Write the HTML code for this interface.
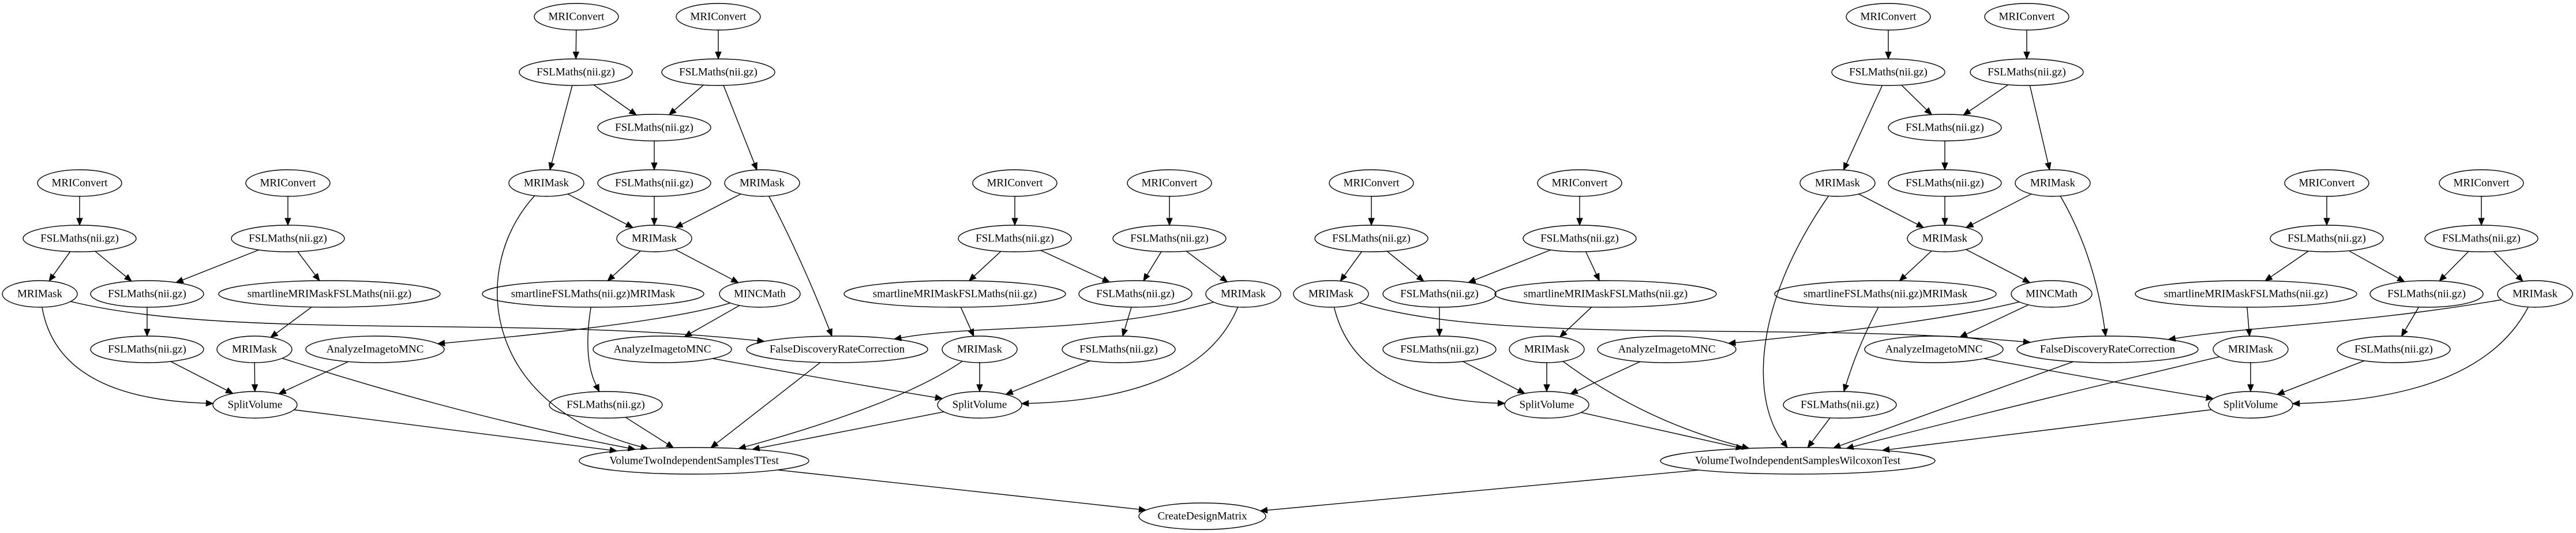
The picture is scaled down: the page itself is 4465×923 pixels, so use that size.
<!DOCTYPE html>
<html><head><meta charset="utf-8"><style>
html,body{margin:0;padding:0;background:#fff;}
svg{display:block;}
text{font-family:"Liberation Serif",serif;font-size:19px;fill:#000;text-anchor:middle;dominant-baseline:central;}
ellipse{fill:none;stroke:#000;stroke-width:1.4;}
</style></head><body>
<svg id="s" width="4465" height="923" viewBox="0 0 4465 923" xmlns="http://www.w3.org/2000/svg">
<g id="edges" stroke="#000" stroke-width="1.4" fill="none"></g>
<g id="heads" fill="#000" stroke="#000" stroke-width="1"></g>
<g id="nodes">
<ellipse id="a1" cx="138" cy="317" rx="73" ry="23"/><text x="138" y="317">MRIConvert</text>
<ellipse id="a2" cx="499" cy="317" rx="73" ry="23"/><text x="499" y="317">MRIConvert</text>
<ellipse id="a3" cx="138" cy="413" rx="98" ry="23"/><text x="138" y="413">FSLMaths(nii.gz)</text>
<ellipse id="a4" cx="499" cy="413" rx="98" ry="23"/><text x="499" y="413">FSLMaths(nii.gz)</text>
<ellipse id="a5" cx="69" cy="509" rx="65" ry="23"/><text x="69" y="509">MRIMask</text>
<ellipse id="a6" cx="255" cy="509" rx="98" ry="23"/><text x="255" y="509">FSLMaths(nii.gz)</text>
<ellipse id="a7" cx="571" cy="509" rx="192" ry="23"/><text x="571" y="509">smartlineMRIMaskFSLMaths(nii.gz)</text>
<ellipse id="a8" cx="255" cy="605" rx="98" ry="23"/><text x="255" y="605">FSLMaths(nii.gz)</text>
<ellipse id="a9" cx="441" cy="605" rx="65" ry="23"/><text x="441" y="605">MRIMask</text>
<ellipse id="a10" cx="650" cy="605" rx="120" ry="23"/><text x="650" y="605">AnalyzeImagetoMNC</text>
<ellipse id="a11" cx="442" cy="701" rx="73" ry="23"/><text x="442" y="701">SplitVolume</text>

<ellipse id="b1" cx="999" cy="29" rx="73" ry="23"/><text x="999" y="29">MRIConvert</text>
<ellipse id="b2" cx="1245" cy="29" rx="73" ry="23"/><text x="1245" y="29">MRIConvert</text>
<ellipse id="b3" cx="998" cy="125" rx="98" ry="23"/><text x="998" y="125">FSLMaths(nii.gz)</text>
<ellipse id="b4" cx="1245" cy="125" rx="98" ry="23"/><text x="1245" y="125">FSLMaths(nii.gz)</text>
<ellipse id="b5" cx="1134" cy="221" rx="98" ry="23"/><text x="1134" y="221">FSLMaths(nii.gz)</text>
<ellipse id="b6" cx="947" cy="317" rx="65" ry="23"/><text x="947" y="317">MRIMask</text>
<ellipse id="b7" cx="1134" cy="317" rx="98" ry="23"/><text x="1134" y="317">FSLMaths(nii.gz)</text>
<ellipse id="b8" cx="1321" cy="317" rx="65" ry="23"/><text x="1321" y="317">MRIMask</text>
<ellipse id="b9" cx="1134" cy="413" rx="65" ry="23"/><text x="1134" y="413">MRIMask</text>
<ellipse id="b10" cx="1028" cy="509" rx="192" ry="23"/><text x="1028" y="509">smartlineFSLMaths(nii.gz)MRIMask</text>
<ellipse id="b11" cx="1317" cy="509" rx="70" ry="23"/><text x="1317" y="509">MINCMath</text>
<ellipse id="b12" cx="1148" cy="605" rx="120" ry="23"/><text x="1148" y="605">AnalyzeImagetoMNC</text>
<ellipse id="b13" cx="1451" cy="605" rx="157" ry="23"/><text x="1451" y="605">FalseDiscoveryRateCorrection</text>
<ellipse id="b14" cx="1050" cy="701" rx="98" ry="23"/><text x="1050" y="701">FSLMaths(nii.gz)</text>
<ellipse id="T" cx="1203" cy="798" rx="199" ry="23"/><text x="1203" y="798">VolumeTwoIndependentSamplesTTest</text>

<ellipse id="c1" cx="1759" cy="317" rx="73" ry="23"/><text x="1759" y="317">MRIConvert</text>
<ellipse id="c2" cx="2027" cy="317" rx="73" ry="23"/><text x="2027" y="317">MRIConvert</text>
<ellipse id="c3" cx="1759" cy="413" rx="98" ry="23"/><text x="1759" y="413">FSLMaths(nii.gz)</text>
<ellipse id="c4" cx="2027" cy="413" rx="98" ry="23"/><text x="2027" y="413">FSLMaths(nii.gz)</text>
<ellipse id="c5" cx="1655" cy="509" rx="192" ry="23"/><text x="1655" y="509">smartlineMRIMaskFSLMaths(nii.gz)</text>
<ellipse id="c6" cx="1968" cy="509" rx="98" ry="23"/><text x="1968" y="509">FSLMaths(nii.gz)</text>
<ellipse id="c7" cx="2155" cy="509" rx="65" ry="23"/><text x="2155" y="509">MRIMask</text>
<ellipse id="c8" cx="1698" cy="605" rx="65" ry="23"/><text x="1698" y="605">MRIMask</text>
<ellipse id="c9" cx="1939" cy="605" rx="98" ry="23"/><text x="1939" y="605">FSLMaths(nii.gz)</text>
<ellipse id="c10" cx="1698" cy="701" rx="73" ry="23"/><text x="1698" y="701">SplitVolume</text>

<ellipse id="D" cx="2084" cy="894" rx="110" ry="23"/><text x="2084" y="894">CreateDesignMatrix</text>

<ellipse id="d1" cx="2377" cy="317" rx="73" ry="23"/><text x="2377" y="317">MRIConvert</text>
<ellipse id="d2" cx="2738" cy="317" rx="73" ry="23"/><text x="2738" y="317">MRIConvert</text>
<ellipse id="d3" cx="2377" cy="413" rx="98" ry="23"/><text x="2377" y="413">FSLMaths(nii.gz)</text>
<ellipse id="d4" cx="2738" cy="413" rx="98" ry="23"/><text x="2738" y="413">FSLMaths(nii.gz)</text>
<ellipse id="d5" cx="2307" cy="509" rx="65" ry="23"/><text x="2307" y="509">MRIMask</text>
<ellipse id="d6" cx="2495" cy="509" rx="98" ry="23"/><text x="2495" y="509">FSLMaths(nii.gz)</text>
<ellipse id="d7" cx="2783" cy="509" rx="192" ry="23"/><text x="2783" y="509">smartlineMRIMaskFSLMaths(nii.gz)</text>
<ellipse id="d8" cx="2495" cy="605" rx="98" ry="23"/><text x="2495" y="605">FSLMaths(nii.gz)</text>
<ellipse id="d9" cx="2681" cy="605" rx="65" ry="23"/><text x="2681" y="605">MRIMask</text>
<ellipse id="d10" cx="2889" cy="605" rx="120" ry="23"/><text x="2889" y="605">AnalyzeImagetoMNC</text>
<ellipse id="d11" cx="2681" cy="701" rx="73" ry="23"/><text x="2681" y="701">SplitVolume</text>

<ellipse id="e1" cx="3273" cy="29" rx="73" ry="23"/><text x="3273" y="29">MRIConvert</text>
<ellipse id="e2" cx="3513" cy="29" rx="73" ry="23"/><text x="3513" y="29">MRIConvert</text>
<ellipse id="e3" cx="3273" cy="125" rx="98" ry="23"/><text x="3273" y="125">FSLMaths(nii.gz)</text>
<ellipse id="e4" cx="3513" cy="125" rx="98" ry="23"/><text x="3513" y="125">FSLMaths(nii.gz)</text>
<ellipse id="e5" cx="3371" cy="221" rx="98" ry="23"/><text x="3371" y="221">FSLMaths(nii.gz)</text>
<ellipse id="e6" cx="3185" cy="317" rx="65" ry="23"/><text x="3185" y="317">MRIMask</text>
<ellipse id="e7" cx="3371" cy="317" rx="98" ry="23"/><text x="3371" y="317">FSLMaths(nii.gz)</text>
<ellipse id="e8" cx="3558" cy="317" rx="65" ry="23"/><text x="3558" y="317">MRIMask</text>
<ellipse id="e9" cx="3371" cy="413" rx="65" ry="23"/><text x="3371" y="413">MRIMask</text>
<ellipse id="e10" cx="3268" cy="509" rx="192" ry="23"/><text x="3268" y="509">smartlineFSLMaths(nii.gz)MRIMask</text>
<ellipse id="e11" cx="3556" cy="509" rx="70" ry="23"/><text x="3556" y="509">MINCMath</text>
<ellipse id="e12" cx="3352" cy="605" rx="120" ry="23"/><text x="3352" y="605">AnalyzeImagetoMNC</text>
<ellipse id="e13" cx="3653" cy="605" rx="157" ry="23"/><text x="3653" y="605">FalseDiscoveryRateCorrection</text>
<ellipse id="e14" cx="3189" cy="701" rx="98" ry="23"/><text x="3189" y="701">FSLMaths(nii.gz)</text>
<ellipse id="W" cx="3116" cy="798" rx="238" ry="23"/><text x="3116" y="798">VolumeTwoIndependentSamplesWilcoxonTest</text>

<ellipse id="f1" cx="4033" cy="317" rx="73" ry="23"/><text x="4033" y="317">MRIConvert</text>
<ellipse id="f2" cx="4301" cy="317" rx="73" ry="23"/><text x="4301" y="317">MRIConvert</text>
<ellipse id="f3" cx="4033" cy="413" rx="98" ry="23"/><text x="4033" y="413">FSLMaths(nii.gz)</text>
<ellipse id="f4" cx="4301" cy="413" rx="98" ry="23"/><text x="4301" y="413">FSLMaths(nii.gz)</text>
<ellipse id="f5" cx="3893" cy="509" rx="192" ry="23"/><text x="3893" y="509">smartlineMRIMaskFSLMaths(nii.gz)</text>
<ellipse id="f6" cx="4206" cy="509" rx="98" ry="23"/><text x="4206" y="509">FSLMaths(nii.gz)</text>
<ellipse id="f7" cx="4394" cy="509" rx="65" ry="23"/><text x="4394" y="509">MRIMask</text>
<ellipse id="f8" cx="3901" cy="605" rx="65" ry="23"/><text x="3901" y="605">MRIMask</text>
<ellipse id="f9" cx="4149" cy="605" rx="98" ry="23"/><text x="4149" y="605">FSLMaths(nii.gz)</text>
<ellipse id="f10" cx="3901" cy="701" rx="73" ry="23"/><text x="3901" y="701">SplitVolume</text>
</g>
</svg>
<script>
(function(){
var NS="http://www.w3.org/2000/svg";
function N(id){var e=document.getElementById(id);return{x:+e.getAttribute("cx"),y:+e.getAttribute("cy"),rx:+e.getAttribute("rx"),ry:+e.getAttribute("ry")};}
function hit(n,tx,ty){var dx=tx-n.x,dy=ty-n.y;var t=1/Math.sqrt((dx/n.rx)*(dx/n.rx)+(dy/n.ry)*(dy/n.ry));return[n.x+dx*t,n.y+dy*t];}
var eg=document.getElementById("edges"),hg=document.getElementById("heads");
function head(px,py,ex,ey){var dx=ex-px,dy=ey-py,L=Math.sqrt(dx*dx+dy*dy);dx/=L;dy/=L;var bx=ex-dx*12,by=ey-dy*12;
var p=document.createElementNS(NS,"polygon");p.setAttribute("points",ex+","+ey+" "+(bx-dy*5)+","+(by+dx*5)+" "+(bx+dy*5)+","+(by-dx*5));hg.appendChild(p);return[bx,by];}
function E(a,b,c1,c2){var A=N(a),B=N(b),s,e,d;
if(!c1){s=hit(A,B.x,B.y);e=hit(B,A.x,A.y);var bb=head(s[0],s[1],e[0],e[1]);d="M"+s[0]+","+s[1]+"L"+bb[0]+","+bb[1];}
else if(!c2){s=hit(A,c1[0],c1[1]);e=hit(B,c1[0],c1[1]);var bb=head(c1[0],c1[1],e[0],e[1]);d="M"+s[0]+","+s[1]+"Q"+c1[0]+","+c1[1]+" "+bb[0]+","+bb[1];}
else{s=hit(A,c1[0],c1[1]);e=hit(B,c2[0],c2[1]);var bb=head(c2[0],c2[1],e[0],e[1]);d="M"+s[0]+","+s[1]+"C"+c1[0]+","+c1[1]+" "+c2[0]+","+c2[1]+" "+bb[0]+","+bb[1];}
var p=document.createElementNS(NS,"path");p.setAttribute("d",d);eg.appendChild(p);}
// group a
E("a1","a3");E("a2","a4");E("a3","a5");E("a3","a6");E("a4","a6");E("a4","a7");
E("a6","a8");E("a8","a11");E("a7","a9");E("a9","a11");E("a9","T",[800,720]);E("a10","a11");
E("a5","a11",[100,690]);E("a5","b13",[400,590],[900,545]);E("a11","T");
// group b
E("b1","b3");E("b2","b4");E("b3","b5");E("b3","b6");E("b4","b5");E("b4","b8");
E("b5","b7");E("b7","b9");E("b6","b9");E("b8","b9");
E("b6","T",[815,460],[830,700]);E("b8","b13",[1390,450]);
E("b9","b10");E("b9","b11");E("b10","b14",[1010,620]);E("b14","T");
E("b11","b12");E("b11","a10",[1150,560]);E("b12","c10",[1450,660]);E("b13","T");
// group c
E("c1","c3");E("c2","c4");E("c3","c5");E("c3","c6");E("c4","c6");E("c4","c7");
E("c5","c8");E("c8","c10");E("c8","T",[1560,700]);E("c6","c9");E("c9","c10");
E("c7","b13",[1900,580],[1700,560]);E("c7","c10",[2080,690]);E("c10","T");
E("T","D");E("W","D");
// group d
E("d1","d3");E("d2","d4");E("d3","d5");E("d3","d6");E("d4","d6");E("d4","d7");
E("d6","d8");E("d8","d11");E("d7","d9");E("d9","d11");E("d9","W",[2850,730]);E("d10","d11");
E("d5","d11",[2350,690]);E("d5","e13",[2600,600],[3100,555]);E("d11","W");
// group e
E("e1","e3");E("e2","e4");E("e3","e5");E("e3","e6");E("e4","e5");E("e4","e8");
E("e5","e7");E("e7","e9");E("e6","e9");E("e8","e9");
E("e6","W",[3030,540],[3040,700]);E("e8","e13",[3630,440]);
E("e9","e10");E("e9","e11");E("e10","e14",[3220,600]);E("e14","W");
E("e11","e12");E("e11","d10",[3350,560]);E("e12","f10",[3650,660]);E("e13","W");
// group f
E("f1","f3");E("f2","f4");E("f3","f5");E("f3","f6");E("f4","f6");E("f4","f7");
E("f5","f8");E("f8","f10");E("f8","W",[3500,700]);E("f6","f9");E("f9","f10");
E("f7","e13",[4100,560],[3900,565]);E("f7","f10",[4300,690]);E("f10","W");
})();
</script>
</body></html>
